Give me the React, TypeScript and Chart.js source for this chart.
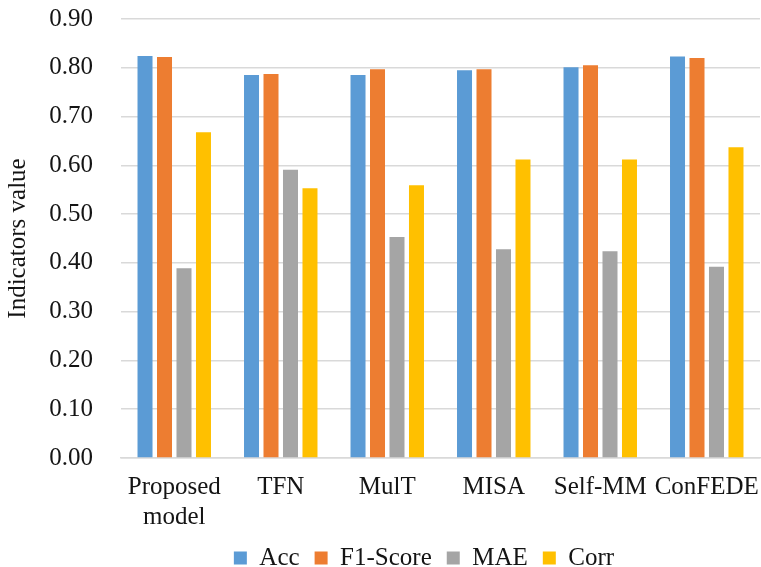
import React, { useEffect, useRef } from "react";
import { Chart, registerables } from "chart.js";

Chart.register(...registerables);

const categories: (string | string[])[] = [["Proposed", "model"], "TFN", "MulT", "MISA", "Self-MM", "ConFEDE"];
const accValues = [0.824, 0.785, 0.785, 0.795, 0.801, 0.823];
const f1Values = [0.822, 0.787, 0.797, 0.797, 0.805, 0.820];
const maeValues = [0.389, 0.591, 0.453, 0.428, 0.424, 0.392];
const corrValues = [0.668, 0.553, 0.559, 0.612, 0.612, 0.637];
const seriesNames = ["Acc", "F1-Score", "MAE", "Corr"];
const seriesColors = ["#5B9BD5", "#ED7D31", "#A5A5A5", "#FFC000"];
const yTitle = "Indicators value";

const FONT = "'Liberation Serif', 'Times New Roman', serif";
const TEXT = "#141414";

const shiftLegend = {
  id: "shiftLegend",
  afterLayout(chart: any) {
    const l = chart.legend;
    if (l) {
      l.left += 44;
      l.right += 44;
    }
  },
};

export default function App() {
  const ref = useRef<HTMLCanvasElement | null>(null);
  useEffect(() => {
    document.body.style.margin = "0";
    const values = [accValues, f1Values, maeValues, corrValues];
    const chart = new Chart(ref.current!, {
      type: "bar",
      data: {
        labels: categories,
        datasets: seriesNames.map((name, i) => ({
          label: name,
          data: values[i],
          backgroundColor: seriesColors[i],
          borderWidth: 0,
          categoryPercentage: 0.732,
          barPercentage: 0.77,
        })),
      },
      plugins: [shiftLegend],
      options: {
        animation: false,
        responsive: false,
        maintainAspectRatio: false,
        layout: { padding: { top: 19, right: 1, bottom: -13.5, left: 0 } },
        plugins: {
          tooltip: { enabled: false },
          legend: {
            position: "bottom",
            labels: {
              font: { family: FONT, size: 25 },
              color: TEXT,
              boxWidth: 13,
              boxHeight: 13,
              padding: 15,
            },
          },
        },
        scales: {
          x: {
            afterFit: (s: any) => {
              s.height = 72.5;
              s.paddingLeft = 0;
              s.paddingRight = 0;
            },
            grid: { display: false },
            border: { display: true, color: "#d9d9d9", width: 1.5 },
            ticks: {
              font: { family: FONT, size: 25, lineHeight: 1.18 },
              color: TEXT,
              padding: 7,
              maxRotation: 0,
              autoSkip: false,
            },
          },
          y: {
            min: 0,
            max: 0.9,
            afterFit: (s: any) => {
              s.width = 121;
              s.paddingTop = 0;
              s.paddingBottom = 0;
            },
            ticks: {
              stepSize: 0.1,
              font: { family: FONT, size: 25 },
              color: TEXT,
              padding: 28,
              callback: (v: any) => Number(v).toFixed(2),
            },
            grid: { color: "#d9d9d9", lineWidth: 1.5, drawTicks: false },
            border: { display: false },
            title: {
              display: true,
              text: yTitle,
              font: { family: FONT, size: 25 },
              color: TEXT,
              padding: { top: 3, bottom: 0 },
            },
          },
        },
      },
    });
    return () => chart.destroy();
  }, []);
  return (
    <div style={{ width: 761, height: 567 }}>
      <canvas ref={ref} width={761} height={567} style={{ width: 761, height: 567 }} />
    </div>
  );
}
